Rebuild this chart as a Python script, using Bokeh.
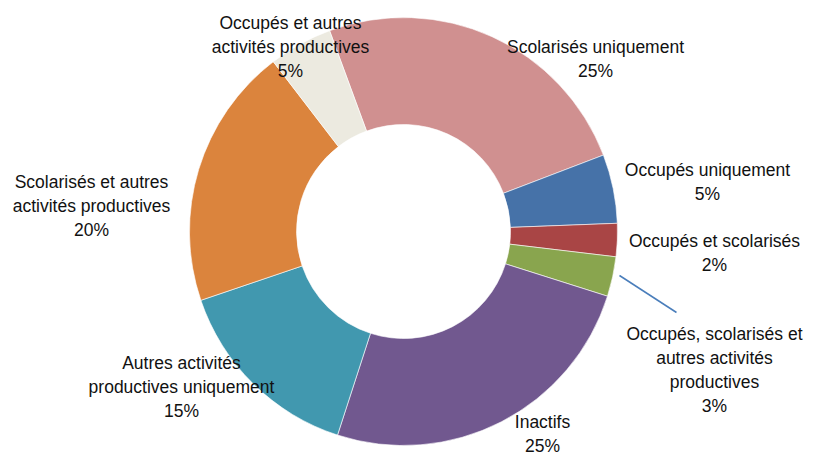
import math
from bokeh.plotting import figure
from bokeh.models import Range1d
from bokeh.core.properties import value
from bokeh.embed import file_html
from bokeh.resources import INLINE

# ---- data ----
categories = [
    "Scolarisés uniquement",
    "Occupés uniquement",
    "Occupés et scolarisés",
    "Occupés, scolarisés et autres activités productives",
    "Inactifs",
    "Autres activités productives uniquement",
    "Scolarisés et autres activités productives",
    "Occupés et autres activités productives",
]
label_lines = [
    ["Scolarisés uniquement"],
    ["Occupés uniquement"],
    ["Occupés et scolarisés"],
    ["Occupés, scolarisés et", "autres activités", "productives"],
    ["Inactifs"],
    ["Autres activités", "productives uniquement"],
    ["Scolarisés et autres", "activités productives"],
    ["Occupés et autres", "activités productives"],
]
shares = [24.8, 5.2, 2.5, 3.0, 25.1, 14.8, 19.8, 4.8]
pct_labels = ["25%", "5%", "2%", "3%", "25%", "15%", "20%", "5%"]
colors = ["#D09090", "#4672A8", "#A94545", "#89A54E", "#71588F", "#4198AF", "#DB843D", "#ECEAE0"]

# ---- layout (picture pixel coordinates) ----
W, H = 806, 455
def px(x):
    return x
def py(y):
    return H - y

cx, cy = 403, 231
r_out, r_in = 214, 107
offset_cw = -20.2  # degrees clockwise from top where first slice starts

label_pos = [(595, 46), (707, 169), (714, 240), (714, 333),
             (542, 421), (181, 362), (91, 181), (290, 22)]
line_h = 24

p = figure(width=W, height=H, output_backend="svg", toolbar_location=None,
           x_range=Range1d(0, W), y_range=Range1d(0, H), min_border=0)
p.axis.visible = False
p.grid.visible = False
p.outline_line_color = None
p.background_fill_color = "white"
p.border_fill_color = "white"

total = sum(shares)
cum = 0.0
starts, ends = [], []
for s in shares:
    start_cw = offset_cw + cum / total * 360.0
    end_cw = start_cw + s / total * 360.0
    starts.append(math.radians(90.0 - end_cw))
    ends.append(math.radians(90.0 - start_cw))
    cum += s

p.annular_wedge(x=[px(cx)] * len(shares), y=[py(cy)] * len(shares),
                inner_radius=r_in, outer_radius=r_out,
                start_angle=starts, end_angle=ends, direction="anticlock",
                fill_color=colors, line_color="white", line_width=0.6)

# leader line for the small green slice
p.line(x=[px(619), px(676)], y=[py(275), py(312)], line_color="#4A7EBB", line_width=1.5)

tx, ty, tt = [], [], []
for (lx, ly), lines, pct in zip(label_pos, label_lines, pct_labels):
    for i, t in enumerate(lines + [pct]):
        tx.append(px(lx))
        ty.append(py(ly + i * line_h))
        tt.append(t)

p.text(x=tx, y=ty, text=tt, text_align="center", text_baseline="middle",
       text_font=value("Liberation Sans"), text_font_size="17.5px", text_color="#111111")

open("out.html", "w").write(file_html(p, INLINE))
